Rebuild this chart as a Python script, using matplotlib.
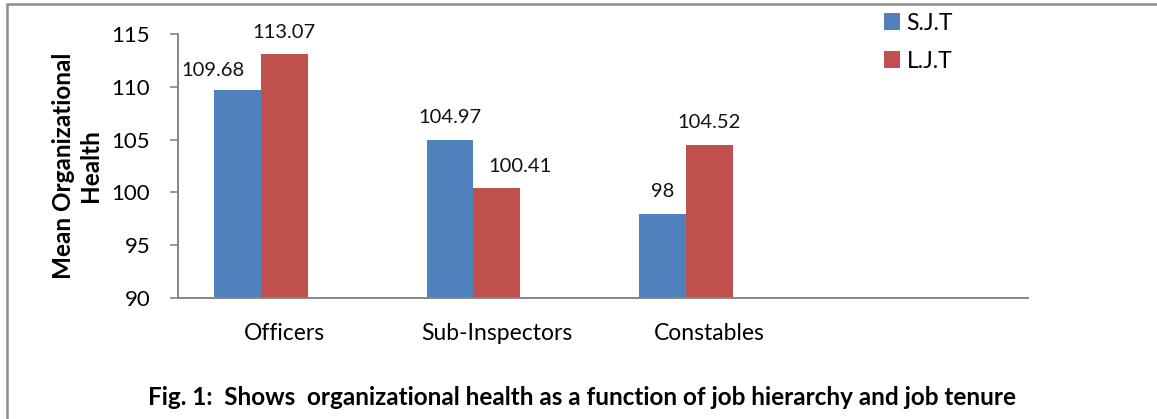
import matplotlib
matplotlib.use("Agg")
import matplotlib.pyplot as plt
from matplotlib.patches import Rectangle
import numpy as np

categories = ["Officers", "Sub-Inspectors", "Constables", ""]
sjt = [109.68, 104.97, 98.0]
ljt = [113.07, 100.41, 104.52]
series_names = ["S.J.T", "L.J.T"]
yticks = [90, 95, 100, 105, 110, 115]

BLUE = "#4F81BD"
RED = "#C0504D"
GRAY = "#868686"

plt.rcParams['font.family'] = ['Lato', 'DejaVu Sans']

W, H = 1157, 419
fig = plt.figure(figsize=(W / 100, H / 100), dpi=100)

# outer frame (right/bottom edges lie outside the image)
top = 1 - 4.5 / H
fig.add_artist(Rectangle((7 / W, -0.05), 1.2, top + 0.05,
                         transform=fig.transFigure, fill=False,
                         edgecolor="#8C8C8C", linewidth=1.8))

ax = fig.add_axes([178 / W, 1 - 298 / H, (1028 - 178) / W, (298 - 34) / H])

x = np.arange(len(sjt))
w = 0.22
b1 = ax.bar(x - w, sjt, width=w, color=BLUE, label=series_names[0])
b2 = ax.bar(x, ljt, width=w, color=RED, label=series_names[1])

# label placement tweaks (points) as in the reference
offs1 = [(-18, 10), (0, 12), (0, 12)]
offs2 = [(0, 12), (17, 11.5), (0, 12)]
for bars, vals, offs in ((b1, sjt, offs1), (b2, ljt, offs2)):
    for rect, v, (dx, dy) in zip(bars, vals, offs):
        ax.annotate(f"{v:g}", (rect.get_x() + rect.get_width() / 2, v),
                    xytext=(dx, dy), textcoords="offset points",
                    ha="center", va="baseline", fontsize=14.5,
                    color="#111111", annotation_clip=False)

ax.set_xlim(-0.5, 3.5)
ax.set_ylim(90, 115)
ax.set_yticks(yticks)
ax.set_yticklabels([str(t) for t in yticks], fontsize=16)
ax.set_xticks(np.arange(len(categories)))
ax.set_xticklabels(categories, fontsize=16.5)
ax.tick_params(axis="x", length=0, pad=18)
ax.tick_params(axis="y", length=6, color=GRAY, pad=14, width=1.2)
for s in ("top", "right"):
    ax.spines[s].set_visible(False)
for s in ("left", "bottom"):
    ax.spines[s].set_color(GRAY)
    ax.spines[s].set_linewidth(1.4)

ax.set_ylabel("Mean Organizational\nHealth", fontsize=17.5, fontweight="bold",
              linespacing=1.2)
ax.yaxis.set_label_coords(-0.090, 0.5)

leg = fig.legend(handles=[b1, b2], labels=series_names,
                 loc="upper left", bbox_to_anchor=(863 / W, 1 + 8 / H),
                 frameon=False, fontsize=16.5, handlelength=0.7,
                 handleheight=0.75, handletextpad=0.3, labelspacing=0.75)

fig.text(582 / W, 1 - 397 / H,
         "Fig. 1:  Shows  organizational health as a function of job hierarchy and job tenure",
         ha="center", va="center", fontsize=17.5, fontweight="bold")

fig.savefig("out.png", dpi=100)
